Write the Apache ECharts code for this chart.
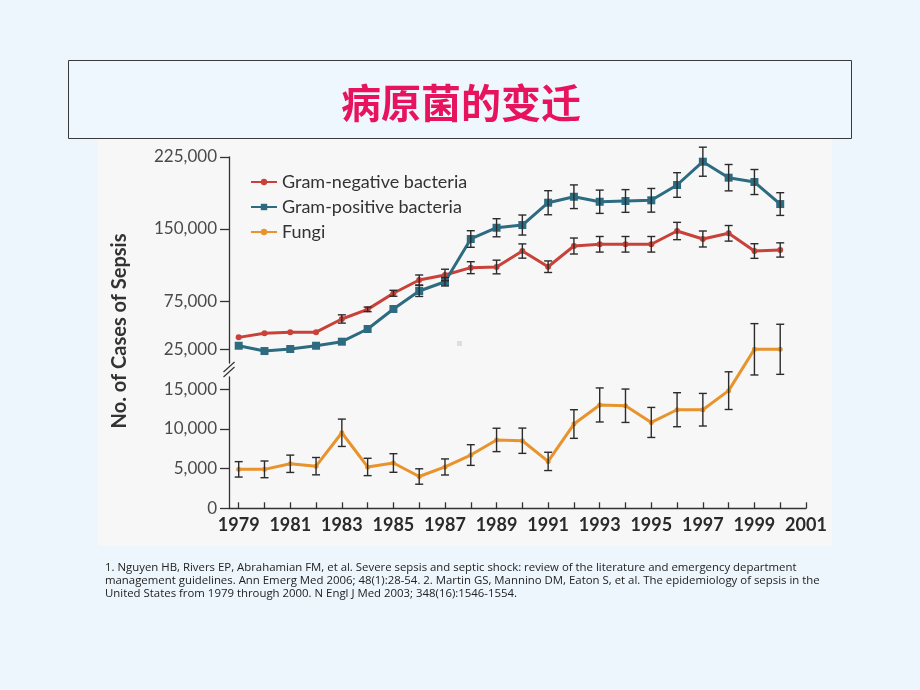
<!DOCTYPE html>
<html>
<head>
<meta charset="utf-8">
<script src="https://cdn.jsdelivr.net/npm/echarts@6/dist/echarts.min.js"></script>
<style>
html,body{margin:0;padding:0;background:#eef6fd;}
#chart{width:920px;height:690px;}
</style>
</head>
<body>
<div id="chart"></div>
<script>
// ---- data ----
const titleText = '病原菌的变迁';
const axisTitle = 'No. of Cases of Sepsis';
const years = [1979,1980,1981,1982,1983,1984,1985,1986,1987,1988,1989,1990,1991,1992,1993,1994,1995,1996,1997,1998,1999,2000];
const xTickYears = [1979,1980,1981,1982,1983,1984,1985,1986,1987,1988,1989,1990,1991,1992,1993,1994,1995,1996,1997,1998,1999,2000,2001];
const xLabelYears = [1979,1981,1983,1985,1987,1989,1991,1993,1995,1997,1999,2001];
const upperTicks = [25000,75000,150000,225000];
const lowerTicks = [0,5000,10000,15000];
const seriesNames = ['Gram-negative bacteria','Gram-positive bacteria','Fungi'];

const gramNeg    = [37400,41600,42600,42800,56500,66500,83200,97000,102200,109800,110500,127100,110800,132300,134100,134100,134100,147900,139600,145500,127100,128200];
const gramNegErr = [0,0,0,0,4300,2400,3100,5200,6000,6200,7100,7400,6000,8300,8100,8100,8100,9000,8300,8100,7600,7400];
const gramPos    = [28700,23200,25300,28700,32900,46100,66900,85600,95200,139600,151300,154100,177300,183500,178300,179100,179800,195700,219900,203300,198800,175900];
const gramPosErr = [0,0,0,0,0,0,0,5700,4400,8600,9400,10400,12500,12300,12100,11800,12300,12800,15100,13700,13000,11800];
const fungi      = [4900,4900,5600,5300,9500,5200,5700,4000,5200,6700,8600,8500,5900,10600,13000,12900,10800,12400,12400,14800,20000,20000];
const fungiErr   = [970,1050,1090,1090,1720,1090,1170,970,1010,1300,1470,1590,1150,1800,2140,2100,1890,2140,2050,2370,3230,3150];

const footnote = '1. Nguyen HB, Rivers EP, Abrahamian FM, et al. Severe sepsis and septic shock: review of the literature and emergency department\nmanagement guidelines. Ann Emerg Med 2006; 48(1):28-54. 2. Martin GS, Mannino DM, Eaton S, et al. The epidemiology of sepsis in the\nUnited States from 1979 through 2000. N Engl J Med 2003; 348(16):1546-1554.';

// ---- helpers ----
const pts = (vals) => years.map((y, i) => [y, vals[i]]);
const errPts = (vals, errs) => years.map((y, i) => [y, vals[i] - errs[i], vals[i] + errs[i]]).filter((d, i) => errs[i] > 0);
const fmt = v => String(v).replace(/\B(?=(\d{3})+(?!\d))/g, ',');

function errRender(params, api) {
  const x = api.value(0), lo = api.value(1), hi = api.value(2);
  const a = api.coord([x, hi]), b = api.coord([x, lo]);
  const w = 4;
  const st = {stroke: '#2b2b2b', lineWidth: 1.4};
  return {type: 'group', children: [
    {type: 'line', shape: {x1: a[0], y1: a[1], x2: b[0], y2: b[1]}, style: st},
    {type: 'line', shape: {x1: a[0]-w, y1: a[1], x2: a[0]+w, y2: a[1]}, style: st},
    {type: 'line', shape: {x1: b[0]-w, y1: b[1], x2: b[0]+w, y2: b[1]}, style: st}
  ]};
}

const C_NEG = '#c8423a', C_POS = '#2c6b80', C_FUN = '#e8932c';
const XMIN = 1978.624, XMAX = 2001;

const chart = echarts.init(document.getElementById('chart'), null, {renderer: 'canvas'});
const option = {
  animation: false,
  backgroundColor: '#eef6fd',
  graphic: [
    {type: 'rect', z: -10, shape: {x: 98, y: 139, width: 734, height: 407}, style: {fill: '#f7f7f7'}},
    {type: 'rect', z: -5, shape: {x: 68.5, y: 60.5, width: 783, height: 78}, style: {fill: '#eef7fe', stroke: '#3a3a3a', lineWidth: 1}},
    {type: 'text', x: 461, y: 103, style: {text: titleText, fill: '#e8135d', font: '600 40px "Noto Sans CJK SC"', align: 'center', verticalAlign: 'middle', textShadowColor: 'rgba(0,0,0,0.35)', textShadowOffsetX: 2, textShadowOffsetY: 2}},
    {type: 'text', x: 120, y: 331, rotation: Math.PI/2, style: {text: axisTitle, fill: '#333', font: 'bold 20px Lato', align: 'center', verticalAlign: 'middle'}},
    {type: 'rect', shape: {x: 457, y: 341, width: 5, height: 5}, style: {fill: '#dedede'}},
    {type: 'line', shape: {x1: 223.5, y1: 372, x2: 234.5, y2: 362}, style: {stroke: '#333', lineWidth: 1.2}},
    {type: 'line', shape: {x1: 223.5, y1: 377, x2: 234.5, y2: 367}, style: {stroke: '#333', lineWidth: 1.2}},
    {type: 'text', x: 105, y: 561, style: {text: footnote, fill: '#222', font: '11.4px "Open Sans"', lineHeight: 13, align: 'left', verticalAlign: 'top'}}
  ],
  legend: {
    orient: 'vertical', left: 245, top: 168,
    itemWidth: 26, itemHeight: 8, itemGap: 7,
    textStyle: {color: '#333', fontSize: 18, fontFamily: 'Lato', lineHeight: 18},
    data: seriesNames
  },
  grid: [
    {left: 229, top: 156.8, width: 577, height: 206.2, outerBoundsMode: 'none'},
    {left: 229, top: 377, width: 577, height: 131.3, outerBoundsMode: 'none'}
  ],
  xAxis: [
    {gridIndex: 0, type: 'value', min: XMIN, max: XMAX, show: false, splitLine: {show: false}},
    {gridIndex: 1, type: 'value', min: XMIN, max: XMAX,
     axisLine: {show: true, lineStyle: {color: '#333', width: 1.3}},
     axisTick: {show: true, inside: true, length: 6, customValues: xTickYears, lineStyle: {color: '#333', width: 1.3}},
     axisLabel: {customValues: xLabelYears, margin: 8, color: '#2a2a2a', fontSize: 18, fontWeight: 'bold', fontFamily: 'Lato', formatter: v => String(v)},
     splitLine: {show: false}}
  ],
  yAxis: [
    {gridIndex: 0, type: 'value', min: 10766, max: 225000,
     axisLine: {show: true, lineStyle: {color: '#333', width: 1.3}},
     axisTick: {show: true, length: 9, customValues: upperTicks, lineStyle: {color: '#333', width: 1.3}},
     axisLabel: {customValues: upperTicks, margin: 12, color: '#4a4a4a', fontSize: 17, fontFamily: 'Lato', formatter: fmt},
     splitLine: {show: false}},
    {gridIndex: 1, type: 'value', min: 0, max: 16516,
     axisLine: {show: true, lineStyle: {color: '#333', width: 1.3}},
     axisTick: {show: true, length: 9, customValues: lowerTicks, lineStyle: {color: '#333', width: 1.3}},
     axisLabel: {customValues: lowerTicks, margin: 12, color: '#4a4a4a', fontSize: 17, fontFamily: 'Lato', formatter: fmt},
     splitLine: {show: false}}
  ],
  series: [
    {name: seriesNames[0], type: 'line', xAxisIndex: 0, yAxisIndex: 0, data: pts(gramNeg), color: C_NEG,
     lineStyle: {width: 3}, symbol: 'circle', symbolSize: 6, showSymbol: true, z: 3},
    {name: seriesNames[1], type: 'line', xAxisIndex: 0, yAxisIndex: 0, data: pts(gramPos), color: C_POS,
     lineStyle: {width: 3}, symbol: 'rect', symbolSize: 8, showSymbol: true, z: 3},
    {name: seriesNames[2], type: 'line', xAxisIndex: 1, yAxisIndex: 1, data: pts(fungi), color: C_FUN,
     lineStyle: {width: 3}, symbol: 'circle', symbolSize: 5, showSymbol: true, clip: false, z: 3},
    {type: 'custom', xAxisIndex: 0, yAxisIndex: 0, data: errPts(gramNeg, gramNegErr), renderItem: errRender, encode: {x: 0, y: [1, 2]}, z: 5, silent: true},
    {type: 'custom', xAxisIndex: 0, yAxisIndex: 0, data: errPts(gramPos, gramPosErr), renderItem: errRender, encode: {x: 0, y: [1, 2]}, z: 5, silent: true},
    {type: 'custom', xAxisIndex: 1, yAxisIndex: 1, data: errPts(fungi, fungiErr), renderItem: errRender, encode: {x: 0, y: [1, 2]}, z: 5, silent: true, clip: false}
  ]
};
chart.setOption(option);
</script>
</body>
</html>
